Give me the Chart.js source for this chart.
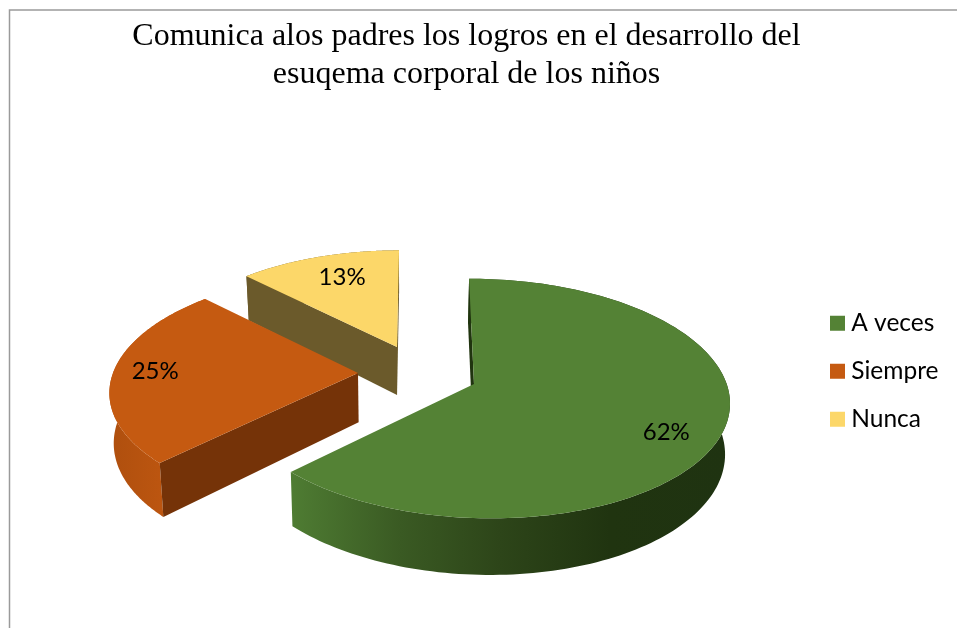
<!DOCTYPE html>
<html><head><meta charset="utf-8">
<style>html,body{margin:0;padding:0;background:#fff}canvas{display:block}</style>
<script src="https://cdn.jsdelivr.net/npm/chart.js@4/dist/chart.umd.min.js"></script>
</head><body><canvas id="c" width="957" height="628"></canvas>
<script>
const titleLines = ["Comunica alos padres los logros en el desarrollo del", "esuqema corporal de los niños"];
const categories = ["A veces", "Siempre", "Nunca"];
const values = [62.5, 25, 12.5];
const percentLabels = ["62%", "25%", "13%"];
const topColors = ["#548235", "#C55A11", "#FCD769"];
const faceColors = ["#20340F", "#753308", "#6B5A2B"];

// how each exploded slice is projected (a perspective view of the tilted disc)
const views = [
  {cx:474, cy:384, R:247, V:118, k:0.121, m:-0.025, S:-5.5, T:2, labelR:0.81, labelShift:4.5},
  {cx:358, cy:373, R:245, V:115, k:0.138, m:0,     S:8,    T:0, labelR:0.83, labelShift:1},
  {cx:397, cy:347, R:236, V:110, k:0.138, m:0,     S:2.3,  T:0, labelR:0.74, labelShift:1.8}
];
const wallStops = [
  [[288,"#4F7D33"],[400,"#3A5A23"],[500,"#2D4519"],[610,"#203410"],[728,"#1F3311"]],
  [[110,"#AF4F0E"],[165,"#BD5610"]],
  [[240,"#6B5A2B"],[400,"#6B5A2B"]]
];

function project(v, theta, r){
  const X = Math.sin(theta)*r, Y = Math.cos(theta)*r, w = 1 + v.k*Y + v.m*X;
  return {x: v.cx + (v.R*X + v.S*Y)/w, y: v.cy + (v.T*X - v.V*Y)/w};
}
function lower(p){
  return {x: p.x + (400-p.x)*0.015, y: p.y + 48 + (p.y-347)*0.05};
}
function poly(ctx, pts, fill){
  ctx.beginPath();
  pts.forEach((p,i)=> i ? ctx.lineTo(p.x,p.y) : ctx.moveTo(p.x,p.y));
  ctx.closePath();
  ctx.fillStyle = fill;
  ctx.fill();
}
const pie3d = {
  id:'pie3d',
  beforeDraw(chart){
    const c = chart.ctx;
    c.save();
    c.fillStyle = '#fff'; c.fillRect(0,0,chart.width,chart.height);
    c.strokeStyle = '#9a9a9a'; c.lineWidth = 1.5;
    c.beginPath(); c.moveTo(9.5,chart.height); c.lineTo(9.5,10); c.lineTo(chart.width,10); c.stroke();
    c.restore();
  },
  afterLayout(chart){
    const l = chart.legend;
    l.left = 836 - l.options.labels.padding;
    l.top = 311 - l.options.labels.padding;
    l.bottom = chart.height;
    l.right = chart.width;
  },
  beforeDatasetsDraw(chart){
    const c = chart.ctx;
    const arcs = chart.getDatasetMeta(0).data;
    c.save();
    for (let i = arcs.length-1; i >= 0; i--){
      const a = arcs[i], v = views[i];
      const t0 = a.startAngle + Math.PI/2, t1 = a.endAngle + Math.PI/2;
      const rim = [];
      const n = 160;
      for (let s = 0; s <= n; s++) rim.push(project(v, t0 + (t1-t0)*s/n, 1));
      const apex = project(v, 0, 0);
      const q = rim[n/2];
      // outer wall
      const st = wallStops[i], x0 = st[0][0], x1 = st[st.length-1][0];
      const g = c.createLinearGradient(x0,0,x1,0);
      st.forEach(s => g.addColorStop((s[0]-x0)/(x1-x0), s[1]));
      poly(c, rim.concat(rim.map(lower).reverse()), g);
      // flat cut faces, only the ones turned towards the viewer
      [rim[0], rim[n]].forEach(p => {
        const ex = p.x-apex.x, ey = p.y-apex.y;
        const inner = ex*(q.y-apex.y) - ey*(q.x-apex.x);
        if (ex*inner < 0) poly(c, [apex, p, lower(p), lower(apex)], faceColors[i]);
      });
      // top surface
      poly(c, [apex].concat(rim), topColors[i]);
    }
    c.font = '24px Lato';
    c.fillStyle = '#000';
    c.textAlign = 'center';
    c.textBaseline = 'middle';
    arcs.forEach((a,i)=>{
      const v = views[i];
      const mid = (a.startAngle + a.endAngle)/2 + Math.PI/2;
      const p = project(v, mid + v.labelShift*Math.PI/180, v.labelR);
      c.fillText(percentLabels[i], p.x, p.y);
    });
    c.restore();
    return false;
  }
};
new Chart(document.getElementById('c'), {
  type:'pie',
  data:{labels:categories, datasets:[{data:values, backgroundColor:topColors, borderWidth:0}]},
  plugins:[pie3d],
  options:{
    responsive:false,
    animation:false,
    rotation:0,
    layout:{padding:{right:24}},
    plugins:{
      tooltip:{enabled:false},
      title:{display:true, text:titleLines, color:'#000', padding:{top:17,bottom:10},
        font:{family:'"Liberation Serif"', size:32, weight:'normal', lineHeight:1.2}},
      legend:{display:true, position:'right', align:'start',
        labels:{usePointStyle:true, pointStyle:'rect', boxWidth:3, boxHeight:15, padding:23.5, color:'#000',
          font:{family:'Lato', size:24.5}}}
    }
  }
});
</script></body></html>
